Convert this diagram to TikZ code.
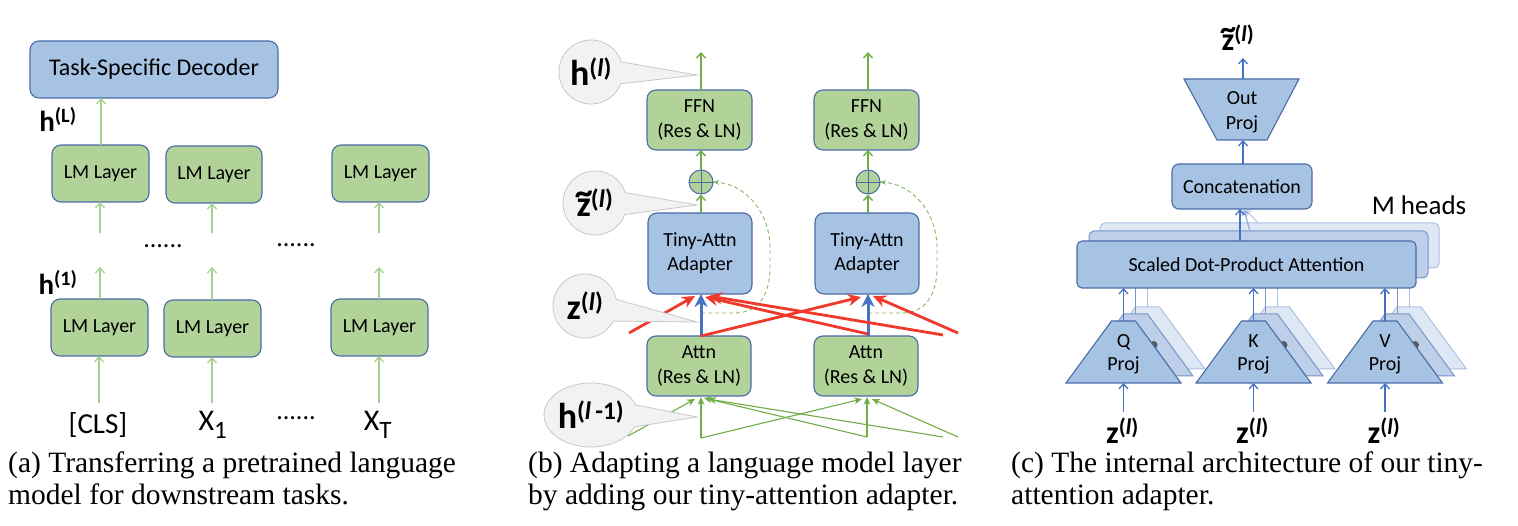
\documentclass[tikz,border=0pt]{standalone}
\usepackage{fontspec}
\setmainfont{Carlito}
\newfontfamily\capfont{Liberation Serif}
\usetikzlibrary{arrows.meta,shapes.callouts}
\newcommand\fsz[2]{\fontsize{#1}{#2}\selectfont}
\newcommand\ztil{\ooalign{z\cr\hidewidth\raisebox{0.34em}{\char"7E}\hidewidth\cr}}
\definecolor{lblue}{RGB}{167,195,227}
\definecolor{bordblue}{RGB}{74,108,166}
\definecolor{lgreen}{RGB}{177,211,153}
\definecolor{agreen}{RGB}{112,173,71}
\definecolor{agreenl}{RGB}{169,209,142}
\definecolor{ablue}{RGB}{68,114,196}
\definecolor{ared}{RGB}{240,57,43}
\definecolor{callfill}{RGB}{242,242,242}
\definecolor{callbord}{RGB}{200,200,200}
\definecolor{midfill}{RGB}{189,207,233}
\definecolor{midbord}{RGB}{120,150,200}
\definecolor{backfill}{RGB}{222,232,245}
\definecolor{backbord}{RGB}{172,192,226}
\tikzset{
  gbox/.style={draw=bordblue, fill=lgreen, line width=1.1pt, rounded corners=9pt, align=center, inner sep=0pt, font=\fsz{20}{25}},
  bbox/.style={draw=bordblue, fill=lblue, line width=1.1pt, rounded corners=9pt, align=center, inner sep=0pt, font=\fsz{20}{24}},
  larrow/.style={draw=agreenl, line width=1.3pt, -{Straight Barb[length=5pt,width=9pt]}},
  garrow/.style={draw=agreen, line width=1.4pt, -{Straight Barb[length=5pt,width=9pt]}},
  gline/.style={draw=agreen, line width=1.1pt, -{Stealth[length=8pt,width=7pt]}},
  redarrow/.style={draw=ared, line width=2.8pt, -{Stealth[length=13pt,width=12pt]}},
  bluethick/.style={draw=ablue, line width=3pt, -{Stealth[length=13pt,width=13pt]}},
  barrow/.style={draw=ablue, line width=1.3pt, -{Straight Barb[length=5pt,width=9pt]}},
  resline/.style={draw=agreen!85, line width=0.9pt, dash pattern=on 4pt off 3pt, -{Stealth[length=6pt,width=5pt]}},
  callbubble/.style={ellipse callout, draw=callbord, fill=callfill, line width=0.8pt, minimum width=64pt, minimum height=64pt, inner sep=0pt, callout pointer arc=40, font=\fsz{36}{36}\bfseries},
  biglabel/.style={inner sep=0pt, font=\fsz{29}{29}\bfseries},
  zlabel/.style={inner sep=0pt, font=\fsz{32}{32}\bfseries},
  plain/.style={inner sep=0pt, font=\fsz{20}{24}},
  captext/.style={inner sep=0pt, anchor=base west, font=\capfont\fsz{29.5}{32}},
  frontshape/.style={draw=bordblue, fill=lblue, line width=1.1pt},
  midshape/.style={draw=midbord, fill=midfill, line width=1pt},
  backshape/.style={draw=backbord, fill=backfill, line width=1pt},
}
\begin{document}
\begin{tikzpicture}[x=1pt,y=-1pt]
\useasboundingbox (0,0) rectangle (1518,526);
\fill[white] (0,0) rectangle (1518,526);

% ================= Panel (a) =================
\node[bbox, minimum width=248pt, minimum height=57pt, font=\fsz{24}{28}] (dec) at (154,69.5) {Task-Specific Decoder};
\node[gbox, minimum width=97pt, minimum height=57pt] (L1t) at (100.5,173.5) {LM Layer};
\node[gbox, minimum width=96pt, minimum height=57pt] (L2t) at (214,174.5) {LM Layer};
\node[gbox, minimum width=97pt, minimum height=57pt] (L3t) at (380.5,173.5) {LM Layer};
\node[gbox, minimum width=97pt, minimum height=57pt] (L1b) at (99.5,327.5) {LM Layer};
\node[gbox, minimum width=97pt, minimum height=57pt] (L2b) at (212.5,328.5) {LM Layer};
\node[gbox, minimum width=97pt, minimum height=57pt] (L3b) at (379.5,327.5) {LM Layer};

\coordinate (dA) at (101,98);
\coordinate (tA) at (101,145);
\draw[larrow] (tA) -- (dA);
\coordinate (m1s) at (100,233); \coordinate (m1e) at (100,202);
\coordinate (m2s) at (212,233); \coordinate (m2e) at (212,203);
\coordinate (m3s) at (379,233); \coordinate (m3e) at (379,202);
\draw[larrow] (m1s) -- (m1e);
\draw[larrow] (m2s) -- (m2e);
\draw[larrow] (m3s) -- (m3e);
\coordinate (u1s) at (100,299); \coordinate (u1e) at (100,267);
\coordinate (u2s) at (212,300); \coordinate (u2e) at (212,267);
\coordinate (u3s) at (379,299); \coordinate (u3e) at (379,267);
\draw[larrow] (u1s) -- (u1e);
\draw[larrow] (u2s) -- (u2e);
\draw[larrow] (u3s) -- (u3e);
\coordinate (i1s) at (99,403); \coordinate (i1e) at (99,356);
\coordinate (i2s) at (212,403); \coordinate (i2e) at (212,357);
\coordinate (i3s) at (379,403); \coordinate (i3e) at (379,356);
\draw[larrow] (i1s) -- (i1e);
\draw[larrow] (i2s) -- (i2e);
\draw[larrow] (i3s) -- (i3e);

\node[biglabel] (hL) at (58,119) {h\textsuperscript{(L)}};
\node[biglabel] (h1) at (58,282) {h\textsuperscript{(1)}};
\node[plain, font=\fsz{26}{26}] (dots1) at (163,246) {......};
\node[plain, font=\fsz{26}{26}] (dots2) at (296,245) {......};
\node[plain, font=\fsz{26}{26}] (dots3) at (296,418) {......};
\node[plain, font=\fsz{29}{29}] (cls) at (98,425) {[CLS]};
\node[plain, font=\fsz{30}{30}] (x1) at (213,425) {X\textsubscript{\fsz{25}{25}1}};
\node[plain, font=\fsz{30}{30}] (xT) at (378,425) {X\textsubscript{\fsz{25}{25}T}};

% ================= Panel (b) =================
\foreach \i/\dx in {1/0,2/167}{
  \node[gbox, minimum width=105pt, minimum height=60pt] (ffn\i) at (699.5+\dx,120) {FFN\\(Res \& LN)};
  \node[bbox, minimum width=104pt, minimum height=81pt] (ta\i) at (700+\dx,253.5) {Tiny-Attn\\Adapter};
  \node[gbox, minimum width=104pt, minimum height=60pt] (attn\i) at (699+\dx,366) {Attn\\(Res \& LN)};
  \node[circle, draw=bordblue, fill=lgreen, line width=1pt, minimum size=24pt, inner sep=0pt] (op\i) at (701+\dx,182) {};
  \draw[bordblue, line width=0.9pt] (op\i.north) -- (op\i.south) (op\i.west) -- (op\i.east);
  \coordinate (out\i) at (701+\dx,52);
  \coordinate (ffnb\i) at (701+\dx,150);
  \coordinate (ffnt\i) at (701+\dx,90);
  \coordinate (tat\i) at (701+\dx,213);
  \coordinate (tab\i) at (701+\dx,294);
  \coordinate (attt\i) at (701+\dx,336);
  \draw[garrow] (ffnt\i) -- (out\i);
  \draw[garrow] (op\i) -- (ffnb\i);
  \draw[garrow] (tat\i) -- (op\i);
  \coordinate (rs\i) at (701+\dx,313);
  \coordinate (rt\i) at (713+\dx,182);
  \draw[resline] (rs\i) -- (735+\dx,313) .. controls (760+\dx,313) and (770+\dx,292) .. (770+\dx,268) -- (770+\dx,248) .. controls (770+\dx,212) and (745+\dx,184) .. (rt\i);
}
\draw[bluethick] (attt1) -- (tab1);
\draw[bluethick] (attt2) -- (tab2);

% red inputs to adapters
\foreach \n/\sx/\sy/\tx/\ty in {1/629/333/695/296, 2/868/334/705/297, 3/943/335/709/296, 4/701/336/861/297, 5/958/333/873/296}{
  \coordinate (rsrc\n) at (\sx,\sy);
  \coordinate (rtgt\n) at (\tx,\ty);
  \draw[redarrow] (rsrc\n) -- (rtgt\n);
}
% green inputs to attn layers
\foreach \n/\sx/\sy/\tx/\ty in {1/628/436/695/399, 2/701/438/701/397, 3/867/437/704/398, 4/943/437/708/399, 5/701/438/862/399, 6/867/437/867/397, 7/958/437/872/399}{
  \coordinate (gsrc\n) at (\sx,\sy);
  \coordinate (gtgt\n) at (\tx,\ty);
  \draw[gline] (gsrc\n) -- (gtgt\n);
}

% callouts
\coordinate (tipA) at (697,75);
\coordinate (tipB) at (697,205);
\coordinate (tipC) at (697,322);
\coordinate (tipD) at (697,417);
\node[callbubble, callout absolute pointer={(tipA)}] (cA) at (591,72) {h\textsuperscript{(\textit{l})}};
\node[callbubble, callout absolute pointer={(tipB)}] (cB) at (595,203) {\ztil\textsuperscript{(\textit{l})}};
\node[callbubble, callout absolute pointer={(tipC)}] (cC) at (585,306) {z\textsuperscript{(\textit{l})}};
\node[callbubble, callout absolute pointer={(tipD)}] (cD) at (591,415) {h\textsuperscript{(\textit{l}\,-1)}};

% ================= Panel (c) =================
\node[zlabel] (zt) at (1238,38) {\ztil\textsuperscript{(\textit{l})}};
\draw[frontshape] (1184,79) -- (1299,79) -- (1267,140) -- (1217,140) -- cycle;
\node[plain, align=center, font=\fsz{20}{25}] (outp) at (1242,112) {Out\\Proj};
\coordinate (opt) at (1243,79);
\coordinate (opb) at (1243,140);
\coordinate (ztb) at (1243,58);
\draw[barrow] (opt) -- (ztb);
\node[bbox, rounded corners=7pt, minimum width=140pt, minimum height=45pt, font=\fsz{20}{24}] (concat) at (1242,186.5) {Concatenation};
\coordinate (cct) at (1243,164);
\draw[barrow] (cct) -- (opb);
\node[plain, font=\fsz{27}{27}] (mh) at (1419,205) {M heads};

% stacked attention boxes
\draw[backshape, rounded corners=5pt] (1100,223) rectangle (1439,268);
\coordinate (bks) at (1258,223); \coordinate (bke) at (1246,210);
\draw[draw=ablue!35, line width=1.2pt, -{Straight Barb[length=4pt,width=7pt]}] (bks) -- (bke);
\draw[midshape, rounded corners=5pt] (1089,231) rectangle (1428,278);
\coordinate (mds) at (1250,231); \coordinate (mde) at (1244,210);
\draw[draw=ablue!60, line width=1.2pt, -{Straight Barb[length=4pt,width=7pt]}] (mds) -- (mde);

\foreach \cx/\lab in {1123.5/Q,1253.5/K,1385/V}{
  % back copy
  \draw[backshape] (\cx-33.5,369) -- (\cx+81.5,369) -- (\cx+36,307) -- (\cx+12,307) -- cycle;
  \draw[draw=backbord, line width=1pt] (\cx+24,307) -- (\cx+24,268);
  % middle copy
  \draw[midshape] (\cx-45.5,376) -- (\cx+69.5,376) -- (\cx+24,314) -- (\cx,314) -- cycle;
  \draw[draw=midbord, line width=1pt] (\cx+12,314) -- (\cx+12,278);
  \fill[gray!70!black] (\cx+30,345) circle[radius=4pt];
  % front
  \draw[frontshape] (\cx-57.5,383) -- (\cx+57.5,383) -- (\cx+12,321) -- (\cx-12,321) -- cycle;
  \node[plain, align=center, font=\fsz{20}{23}] (t\lab) at (\cx,354) {\lab\\Proj};
  \coordinate (top\lab) at (\cx,321);
  \coordinate (bot\lab) at (\cx,383);
  \coordinate (zs\lab) at (\cx,412);
  \coordinate (sdb\lab) at (\cx,288);
  \draw[barrow] (zs\lab) -- (bot\lab);
  \node[zlabel] (z\lab) at (\cx-1,431) {z\textsuperscript{(\textit{l})}};
}
\node[draw=bordblue, fill=lblue, line width=1.1pt, rounded corners=5pt, minimum width=339pt, minimum height=47pt, inner sep=0pt, font=\fsz{20}{24}] (sdpa) at (1246.5,264.5) {Scaled Dot-Product Attention};
\draw[barrow] (topQ) -- (sdbQ);
\draw[barrow] (topK) -- (sdbK);
\draw[barrow] (topV) -- (sdbV);
\coordinate (sdt) at (1240,241);
\coordinate (ccb) at (1240,209);
\draw[barrow] (sdt) -- (ccb);

% ================= Captions =================
\node[captext] (capa1) at (8,472) {(a) Transferring a pretrained language};
\node[captext] (capa2) at (8,504) {model for downstream tasks.};
\node[captext] (capb1) at (528,472) {(b) Adapting a language model layer};
\node[captext] (capb2) at (528,504) {by adding our tiny-attention adapter.};
\node[captext] (capc1) at (1011,472) {(c) The internal architecture of our tiny-};
\node[captext] (capc2) at (1011,504) {attention adapter.};
\end{tikzpicture}
\end{document}
